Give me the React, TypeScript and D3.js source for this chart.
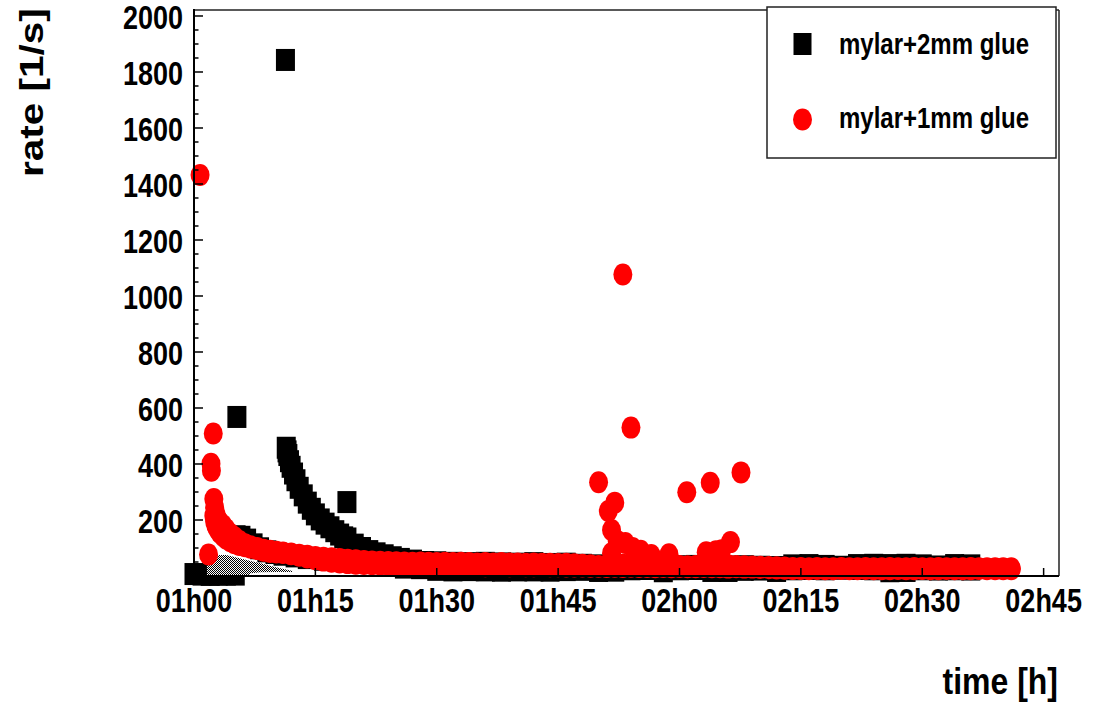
import React from 'react';
import * as d3 from 'd3';

// ---------- axes ----------
const xTickMinutes = [0, 15, 30, 45, 60, 75, 90, 105];
const xTickLabels = ['01h00', '01h15', '01h30', '01h45', '02h00', '02h15', '02h30', '02h45'];
const yTickValues = [200, 400, 600, 800, 1000, 1200, 1400, 1600, 1800, 2000];

// ---------- mylar+2mm glue (black squares), time in minutes after 01h00 ----------
const blackOutlierT = [11.3, 5.3, 18.9];
const blackOutlierV = [1843, 568, 264];

const blackStartT = [0, 1, 2, 3, 4, 5.1];
const blackStartV = [7, 5, 4, 5, 5, 5];

const blackRun1T = [5.2, 5.8, 6.5, 7.3, 8.1, 9, 10, 11, 12.5, 14, 16, 18, 20, 22, 24];
const blackRun1V = [142, 140, 130, 113, 99, 88, 82, 76, 70, 64, 58, 54, 50, 47, 45];

const blackRun2T = [11.4, 11.5, 11.6, 11.8, 12.0, 12.3, 12.6, 13.0, 13.5, 14.0, 14.5, 15.0, 15.6, 16.2, 16.8, 17.4, 18.0, 18.5, 18.9, 19.8, 20.7, 21.6, 22.5, 23.5, 24.5, 25.5, 27.0, 28.5, 30.0];
const blackRun2V = [458, 445, 432, 410, 390, 366, 342, 315, 288, 262, 240, 220, 202, 187, 174, 160, 148, 138, 134, 112, 100, 89, 81, 74, 67, 61, 55, 50, 46];

const blackLateT = [26, 28, 30, 32, 34, 36, 38, 40, 42, 44, 46, 48, 50, 52, 54, 56, 58, 60, 62, 64, 66, 68, 70, 72, 74, 76, 78, 80, 82, 84, 86, 88, 90, 92, 94, 96];
const blackLateHi = [52, 50, 49, 47, 46, 47, 45, 44, 46, 43, 44, 40, 38, 37, 36, 38, 36, 35, 36, 35, 34, 35, 33, 32, 38, 39, 36, 33, 39, 40, 39, 40, 38, 34, 39, 38];
const blackLateLo = [30, 28, 22, 20, 21, 20, 19, 20, 20, 19, 21, 22, 18, 19, 24, 25, 17, 24, 25, 18, 18, 22, 23, 18, 24, 25, 24, 26, 25, 24, 17, 18, 24, 23, 24, 23];

// grey hatched region near the start
const hatchT = [1.6, 4.0, 6.5, 7.0, 8.15, 10.0, 12.2];
const hatchTop = [75, 75, 57, 54, 46, 32, 18];
const hatchBottom = [-3, -3, -3, 10, 13, 14, 14];

// ---------- mylar+1mm glue (red circles) ----------
const redOutlierT = [0.75, 1.8, 2.1, 2.15, 2.38, 50.0, 52.0, 51.2, 51.6, 52.3, 53.3, 54.2, 55.2, 56.5, 58.7, 53.0, 54.0, 60.9, 63.8, 67.6, 66.3, 63.3, 64.5, 65.2, 51.6];
const redOutlierV = [1432, 77, 401, 376, 509, 335, 262, 232, 164, 125, 118, 100, 90, 75, 78, 1077, 530, 299, 333, 370, 121, 85, 88, 92, 81];

const redBandT = [2.45, 2.55, 2.7, 2.9, 3.2, 3.6, 4.0, 4.5, 5.0, 5.6, 6.3, 7.0, 7.8, 8.6, 9.4, 10.2, 11, 12, 13, 14, 15, 16, 17, 18, 19, 20, 21, 22, 23, 24, 25, 26,
  27, 28, 29, 30, 31, 32, 33, 34, 35, 36, 37, 38, 39, 40, 41, 42, 43, 44, 45, 46, 47, 48, 49, 50, 51, 52, 53, 54, 55, 56, 57, 58, 59, 60, 61, 62, 63, 64,
  65, 66, 67, 68, 69, 70, 71, 72, 73, 74, 75, 76, 77, 78, 79, 80, 81, 82, 83, 84, 85, 86, 87, 88, 89, 90, 91, 92, 93, 94, 95, 96, 97, 98, 99, 100, 101];
const redBandHi = [275, 245, 222, 205, 192, 180, 166, 150, 138, 125, 113, 106, 100, 94, 90, 87, 84, 80, 76, 72, 68, 65, 63, 61, 58, 56, 54, 52, 51, 50, 49, 48,
  47, 48, 47, 46, 47, 46, 47, 46, 45, 46, 45, 46, 45, 45, 44, 45, 44, 44, 43, 44, 42, 40, 38, 36, 37, 38, 40, 38, 37, 40, 38, 40, 37, 36, 35, 36, 38, 40,
  42, 38, 36, 35, 34, 33, 32, 31, 30, 29, 29, 28, 29, 28, 28, 29, 28, 28, 29, 28, 28, 29, 28, 28, 29, 28, 28, 29, 28, 28, 28, 29, 28, 28, 28, 28, 28];
const redBandLo = [215, 195, 180, 168, 155, 143, 133, 124, 117, 111, 106, 101, 96, 90, 86, 84, 82, 78, 72, 66, 60, 55, 51, 48, 46, 44, 43, 42, 41, 40, 39, 38,
  37, 37, 36, 37, 36, 36, 37, 36, 36, 35, 36, 36, 35, 36, 35, 35, 36, 35, 35, 34, 34, 34, 33, 33, 32, 33, 32, 33, 32, 32, 31, 32, 31, 32, 31, 31, 32, 31,
  31, 30, 31, 30, 30, 29, 28, 27, 26, 25, 25, 24, 25, 24, 24, 25, 24, 24, 25, 24, 24, 24, 25, 24, 24, 25, 24, 24, 25, 24, 24, 24, 25, 24, 24, 24, 24];

const legendLabels = ['mylar+2mm glue', 'mylar+1mm glue'];

const FONT = "'Liberation Sans', Arial, Helvetica, sans-serif";

export default function App() {
  const x = d3.scaleLinear().domain([0, 106.9]).range([194, 1059]);
  const y = d3.scaleLinear().domain([0, 2021.4]).range([576, 10]);
  const SQW = 19, SQH = 22, RX = 9.5, RY = 11;

  const blackPts: [number, number][] = [];
  blackStartT.forEach((t, i) => blackPts.push([t, blackStartV[i]]));
  blackLateT.forEach((t, i) => { blackPts.push([t, blackLateHi[i]]); blackPts.push([t, blackLateLo[i]]); });
  blackRun1T.forEach((t, i) => blackPts.push([t, blackRun1V[i]]));
  blackRun2T.forEach((t, i) => blackPts.push([t, blackRun2V[i]]));
  blackOutlierT.forEach((t, i) => blackPts.push([t, blackOutlierV[i]]));

  const redPts: [number, number][] = [];
  redBandT.forEach((t, i) => { redPts.push([t, redBandLo[i]]); redPts.push([t, redBandHi[i]]); });
  redOutlierT.forEach((t, i) => redPts.push([t, redOutlierV[i]]));

  const hatchPath = d3.area<number>()
    .x((_, i) => x(hatchT[i]))
    .y0((_, i) => y(hatchBottom[i]))
    .y1((_, i) => y(hatchTop[i]))(hatchT) || '';

  const minorY: number[] = d3.range(0, 2001, 50).filter(v => v % 200 !== 0);
  const SY = 1.2;

  return (
    <svg width={1094} height={703} style={{ position: 'absolute', left: 0, top: 0, background: '#fff' }}>
      <defs>
        <pattern id="hatch" width={2} height={2} patternUnits="userSpaceOnUse">
          <rect width={2} height={2} fill="#fff" />
          <rect width={1} height={1} fill="#000" />
          <rect x={1} y={1} width={1} height={1} fill="#000" />
        </pattern>
      </defs>
      <rect width={1094} height={703} fill="#fff" />

      {/* black squares */}
      <g fill="#000">
        {blackPts.map(([t, v], i) => (
          <rect key={'b' + i} x={x(t) - SQW / 2} y={y(v) - SQH / 2} width={SQW} height={SQH} />
        ))}
      </g>
      {/* hatched area */}
      <path d={hatchPath} fill="url(#hatch)" />
      {/* red circles */}
      <g fill="#ff0000">
        {redPts.map(([t, v], i) => (
          <ellipse key={'r' + i} cx={x(t)} cy={y(v)} rx={RX} ry={RY} />
        ))}
      </g>

      {/* frame */}
      <line x1={194} y1={10} x2={1059} y2={10} stroke="#222" strokeWidth={1.5} />
      <line x1={1059} y1={10} x2={1059} y2={576} stroke="#222" strokeWidth={1.5} />
      <line x1={194} y1={9} x2={194} y2={577} stroke="#000" strokeWidth={2} />
      <line x1={193} y1={576} x2={1059} y2={576} stroke="#000" strokeWidth={2} />

      {/* y ticks */}
      {yTickValues.map(v => (
        <line key={'yt' + v} x1={194} x2={203} y1={y(v)} y2={y(v)} stroke="#000" strokeWidth={1.5} />
      ))}
      {minorY.map(v => (
        <line key={'ym' + v} x1={194} x2={198.5} y1={y(v)} y2={y(v)} stroke="#000" strokeWidth={1.5} />
      ))}
      {yTickValues.map(v => (
        <text key={'yl' + v} transform={`translate(183,${y(v) + 13}) scale(1,${SY})`} textAnchor="end"
          fontFamily={FONT} fontWeight="bold" fontSize={27} fill="#000">{v}</text>
      ))}

      {/* x ticks */}
      {xTickMinutes.map(m => (
        <line key={'xt' + m} x1={x(m)} x2={x(m)} y1={576} y2={568} stroke="#000" strokeWidth={1.5} />
      ))}
      {xTickMinutes.map((m, i) => (
        <text key={'xl' + m} transform={`translate(${x(m)},612) scale(1,${SY})`} textAnchor="middle"
          fontFamily={FONT} fontWeight="bold" fontSize={27} fill="#000">{xTickLabels[i]}</text>
      ))}

      {/* axis titles */}
      <text transform={`translate(43,177) rotate(-90) scale(1.19,1)`} textAnchor="start"
        fontFamily={FONT} fontWeight="bold" fontSize={34} fill="#000">rate [1/s]</text>
      <text transform={`translate(1058,694) scale(1,1.15)`} textAnchor="end"
        fontFamily={FONT} fontWeight="bold" fontSize={32} fill="#000">time [h]</text>

      {/* legend */}
      <rect x={767} y={7} width={289} height={151} fill="#fff" stroke="#222" strokeWidth={1.5} />
      <rect x={802.5 - 9} y={44 - 11} width={18} height={22} fill="#000" />
      <ellipse cx={802.5} cy={119.5} rx={RX} ry={RY} fill="#ff0000" />
      <text transform={`translate(839,54) scale(1,1.25)`} fontFamily={FONT} fontWeight="bold" fontSize={24} fill="#000">{legendLabels[0]}</text>
      <text transform={`translate(839,128) scale(1,1.25)`} fontFamily={FONT} fontWeight="bold" fontSize={24} fill="#000">{legendLabels[1]}</text>
    </svg>
  );
}
